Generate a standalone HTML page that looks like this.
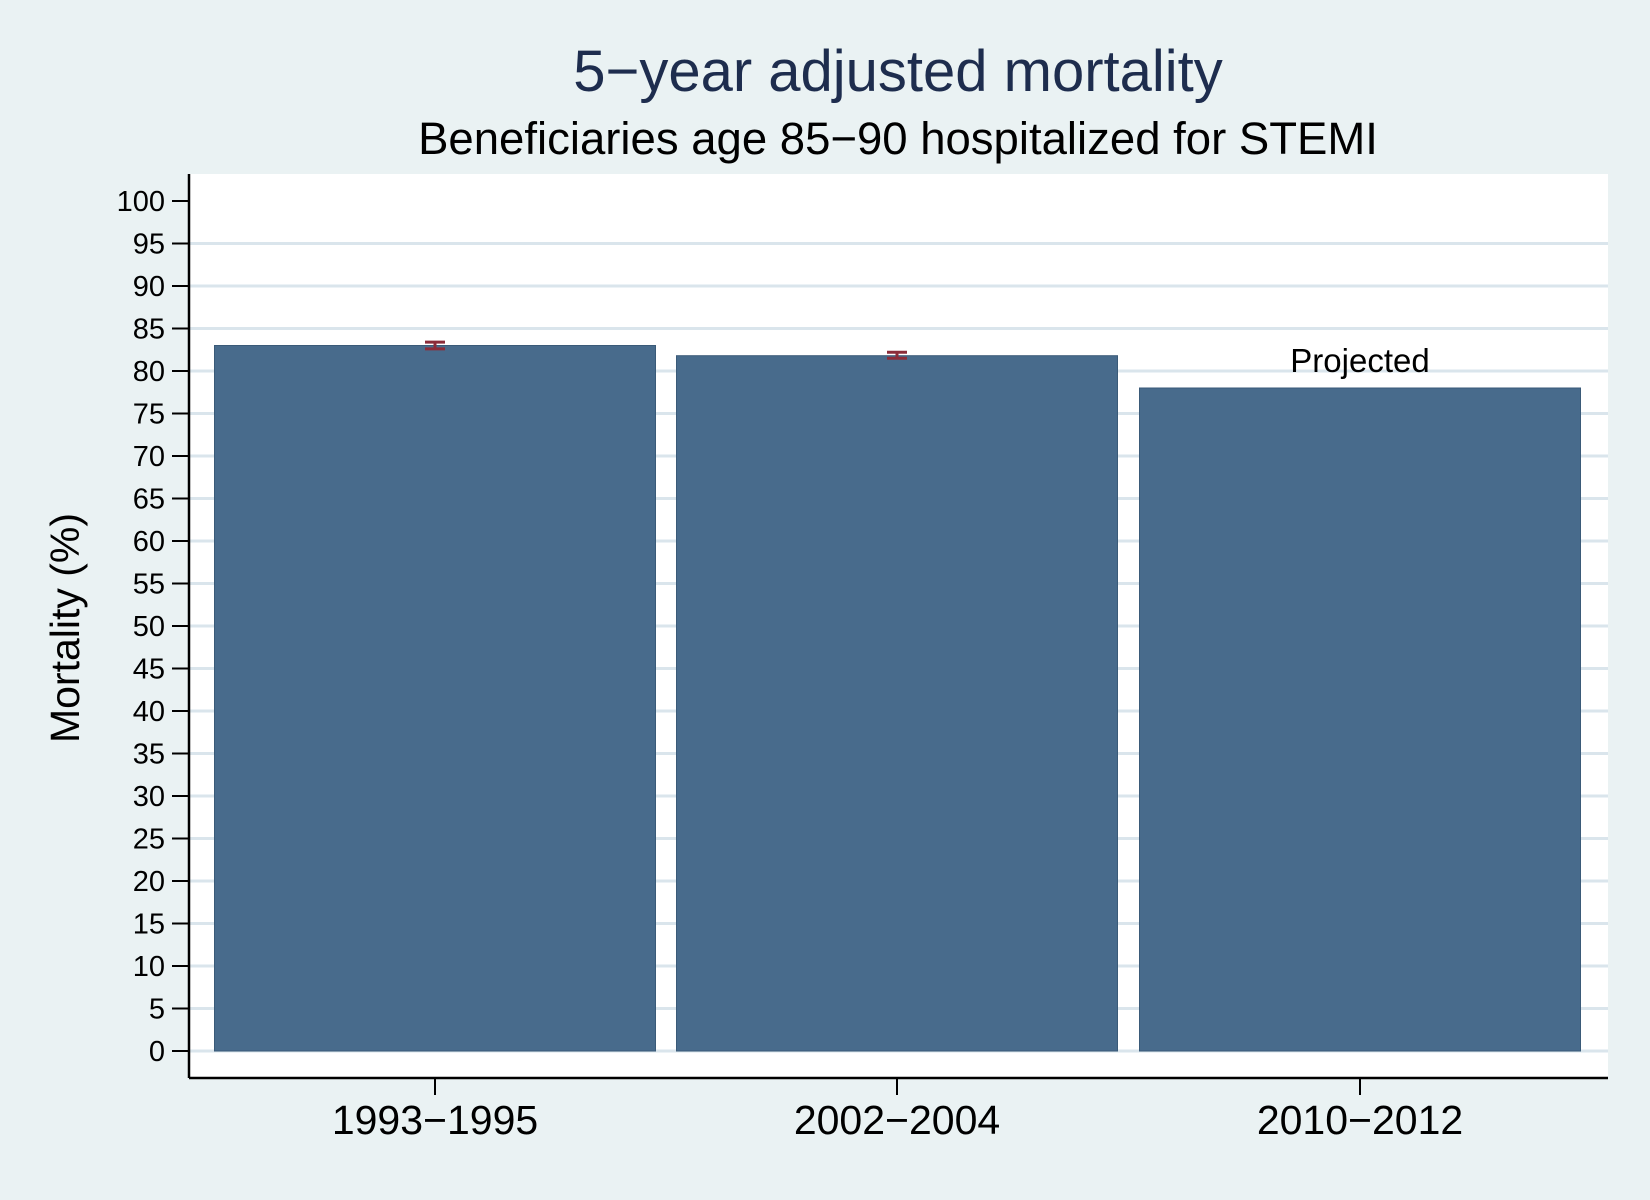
<!DOCTYPE html>
<html><head><meta charset="utf-8"><style>
body{margin:0;background:#eaf2f3;}
svg{display:block;font-family:"Liberation Sans",sans-serif;}
</style></head><body>
<svg id="chart" width="1650" height="1200">
<rect width="1650" height="1200" fill="#eaf2f3"/>
<rect x="189" y="174" width="1419" height="903" fill="#fff"/>
<text x="898" y="91" text-anchor="middle" font-size="58" fill="#1e2d4e">5−year adjusted mortality</text>
<text x="898" y="154" text-anchor="middle" font-size="45.5" fill="#000">Beneficiaries age 85−90 hospitalized for STEMI</text>
<text transform="translate(79,628) rotate(-90)" text-anchor="middle" font-size="41">Mortality (%)</text>
<g id="grid"></g><g id="bars"></g><g id="yaxis"></g><g id="xaxis"></g>
</svg>
<script>
const categories=["1993−1995","2002−2004","2010−2012"];
const values=[83.0,81.8,78.0];
const errLow=[82.6,81.5,null];
const errHigh=[83.4,82.2,null];
const annotations=["","","Projected"];
const yTicks=[0,5,10,15,20,25,30,35,40,45,50,55,60,65,70,75,80,85,90,95,100];
const NS="http://www.w3.org/2000/svg";
function y(v){return 1051-v*8.5;}
function xc(i){return [435,897,1360][i];}
function mk(p,t,a){const e=document.createElementNS(NS,t);for(const k in a)e.setAttribute(k,a[k]);p.appendChild(e);return e;}
const g=document.getElementById('grid'),b=document.getElementById('bars'),ya=document.getElementById('yaxis'),xa=document.getElementById('xaxis');
yTicks.forEach(t=>{
  if(t<100){const l=mk(g,'line',{x1:189,x2:1608,y1:y(t),y2:y(t),stroke:'#dae5ec','stroke-width':3});
  
  }
  const tk=mk(ya,'line',{x1:172,x2:189,y1:y(t),y2:y(t),stroke:'#000','stroke-width':2});
  
  
  const tx=mk(ya,'text',{x:165,y:y(t)+10,'text-anchor':'end','font-size':29});
  tx.textContent=t;
  
  
});
const yl=mk(ya,'line',{x1:189,x2:189,y1:174,y2:1078,stroke:'#000','stroke-width':2.5});


const bw=441;
categories.forEach((c,i)=>{
  const r=mk(b,'rect',{x:xc(i)-bw/2,y:y(values[i]),width:bw,height:y(0)-y(values[i]),fill:'#486b8c',stroke:'#3a5a78','stroke-width':1});
  
  
  if(errLow[i]!=null){
    const eg=mk(b,'g',{stroke:'#8b2c3a','stroke-width':3});
    
    
    mk(eg,'line',{x1:xc(i),x2:xc(i),y1:y(errLow[i]),y2:y(errHigh[i])});
    mk(eg,'line',{x1:xc(i)-10,x2:xc(i)+10,y1:y(errLow[i]),y2:y(errLow[i])});
    mk(eg,'line',{x1:xc(i)-10,x2:xc(i)+10,y1:y(errHigh[i]),y2:y(errHigh[i])});
  }
  if(annotations[i]){
    const a=mk(b,'text',{x:xc(i),y:y(values[i])-16,'text-anchor':'middle','font-size':33});
    a.textContent=annotations[i];
    
    
  }
  const tk=mk(xa,'line',{x1:xc(i),x2:xc(i),y1:1078,y2:1095,stroke:'#000','stroke-width':2});
  
  
  const t=mk(xa,'text',{x:xc(i),y:1134,'text-anchor':'middle','font-size':41});
  t.textContent=c;
  
  
});
const xl=mk(xa,'line',{x1:189,x2:1608,y1:1078,y2:1078,stroke:'#000','stroke-width':2.5});


</script>
</body></html>
